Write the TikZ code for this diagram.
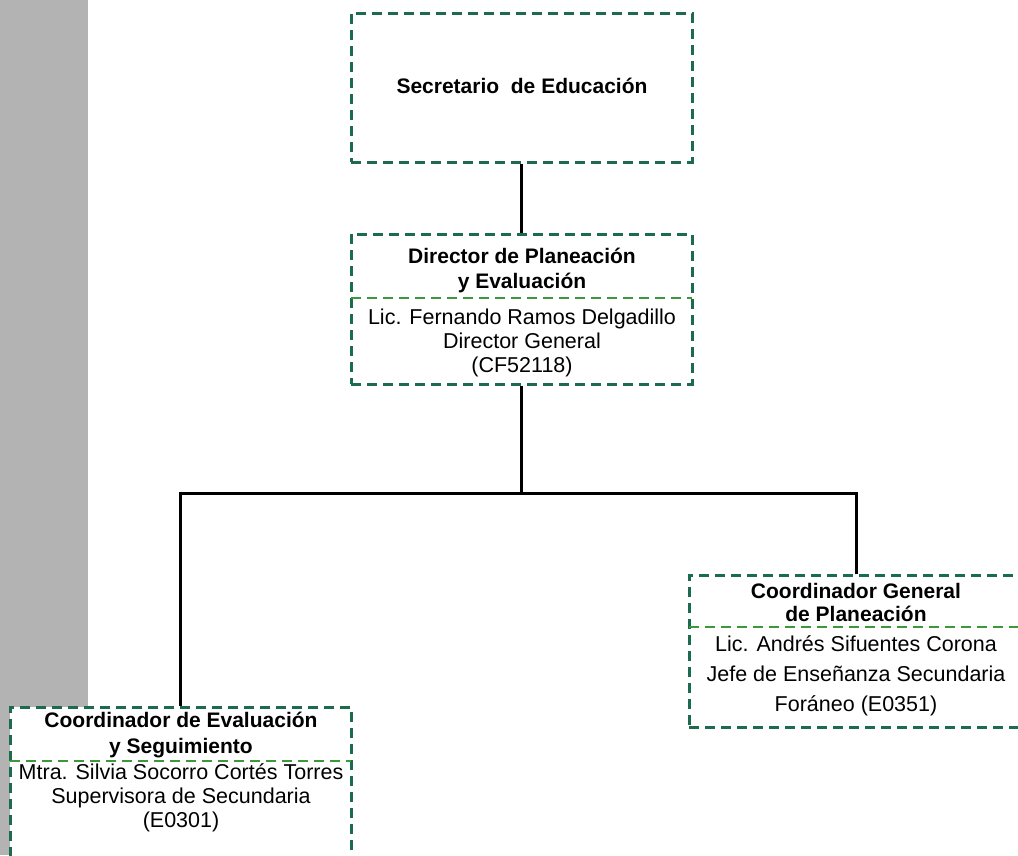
\documentclass[tikz,border=0pt]{standalone}
\usepackage{fontspec}
\setmainfont{Liberation Sans}
\definecolor{boxgreen}{HTML}{1B6B4C}
\definecolor{divgreen}{HTML}{3A9A3A}
\definecolor{barGray}{HTML}{B3B3B3}
\begin{document}
\begin{tikzpicture}[x=1pt,y=-1pt,
  orgbox/.style={draw=boxgreen, line width=3pt, dash pattern=on 10pt off 6pt, fill=white, minimum width=#1, inner sep=0pt},
  divline/.style={draw=divgreen, line width=2.5pt, dash pattern=on 10pt off 6pt},
  link/.style={draw=black, line width=3pt},
  headtxt/.style={font=\fontsize{21}{25}\selectfont\bfseries, align=center, inner sep=0pt},
  bodytxt/.style={font=\fontsize{21.5}{24}\selectfont, align=center, inner sep=0pt}
]
\clip (0,0) rectangle (1018,855);
\fill[barGray] (0,0) rectangle (88,855);

% top box
\node[orgbox=341pt, minimum height=149pt] (sec) at (521.5,87.5) {};
\node[headtxt] (sectxt) at (522,86) {Secretario\ \ de Educación};

% director
\node[orgbox=341pt, minimum height=150pt] (dir) at (521.5,309) {};
\coordinate (dirL) at (351,298);
\coordinate (dirR) at (692,298);
\draw[divline] (dirL) -- (dirR);
\node[headtxt] (dirhead) at (522,270) {Director de Planeación\\y Evaluación};
\node[bodytxt] (dirbody) at (522,343) {Lic. Fernando Ramos Delgadillo\\Director General\\(CF52118)};

% right box
\node[orgbox=334pt, minimum height=152pt] (pla) at (856,651) {};
\coordinate (plaL) at (689,627);
\coordinate (plaR) at (1023,627);
\draw[divline] (plaL) -- (plaR);
\node[headtxt, font=\fontsize{21}{23}\selectfont\bfseries] (plahead) at (856,602) {Coordinador General\\de Planeación};
\node[bodytxt, font=\fontsize{21.5}{30}\selectfont] (plabody) at (856,676) {Lic. Andrés Sifuentes Corona\\Jefe de Enseñanza Secundaria\\Foráneo (E0351)};

% bottom box
\node[orgbox=341pt, minimum height=170pt] (eva) at (180.5,792) {};
\coordinate (evaL) at (10,761);
\coordinate (evaR) at (351,761);
\draw[divline] (evaL) -- (evaR);
\node[headtxt, font=\fontsize{21}{26}\selectfont\bfseries] (evahead) at (181,735) {Coordinador de Evaluación\\y Seguimiento};
\node[bodytxt] (evabody) at (181,798) {Mtra. Silvia Socorro Cortés Torres\\Supervisora de Secundaria\\(E0301)};

% connectors
\coordinate (junc) at (521.5,493);
\draw[link] (sec.south) -- (dir.north);
\draw[link] (dir.south) -- (junc);
\draw[link] (junc) -| (eva.north);
\draw[link] (junc) -| (pla.north);
\end{tikzpicture}
\end{document}
